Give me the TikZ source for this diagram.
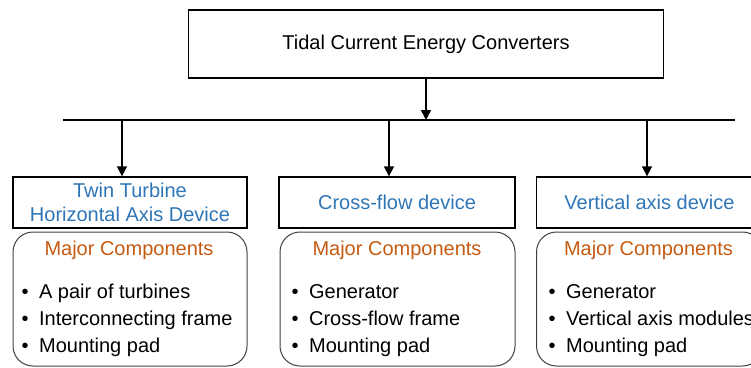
\documentclass[tikz,border=0pt]{standalone}
\usepackage{fontspec}
\setmainfont{Liberation Sans}
\usetikzlibrary{arrows.meta}
\definecolor{ttblue}{HTML}{2E75B6}
\definecolor{mcorange}{HTML}{C55A11}
\definecolor{rbgray}{HTML}{404040}
\begin{document}
\begin{tikzpicture}[x=1pt,y=-1pt,
  txt/.style={font=\fontsize{20}{24}\selectfont},
  topbox/.style={txt,draw=black,line width=1.4pt,minimum width=475pt,minimum height=68pt,inner sep=0pt},
  titlebox/.style={txt,draw=black,line width=1.4pt,minimum height=51pt,inner sep=0pt,text=ttblue,align=center},
  compbox/.style={draw=rbgray,line width=1pt,rounded corners=20pt,minimum height=134pt,inner sep=0pt},
  heading/.style={txt,text=mcorange,inner sep=0pt},
  itemlist/.style={font=\fontsize{20}{27}\selectfont,align=left,inner sep=0pt,anchor=west},
  arr/.style={line width=1.6pt,-{Triangle[width=10pt,length=10pt]}},
  bus/.style={line width=2pt}]
\useasboundingbox (0,0) rectangle (751,367);
\clip (0,0) rectangle (751,367);
% top
\node[topbox] (top) at (426,44) {Tidal Current Energy Converters};
\coordinate (busL) at (63,120);
\coordinate (busR) at (735,120);
\draw[bus] (busL) -- (busR);
\draw[arr] (top.south) -- (top.south |- busL);
% titles
\node[titlebox,minimum width=234pt] (t1) at (130,202.5) {Twin Turbine\\Horizontal Axis Device};
\node[titlebox,minimum width=236pt] (t2) at (397,202.5) {Cross-flow device};
\node[titlebox,minimum width=226pt] (t3) at (649.5,202.5) {Vertical axis device};
\coordinate (b1) at (122,120);
\coordinate (b2) at (389,120);
\coordinate (b3) at (647,120);
\draw[arr] (b1) -- (b1 |- t1.north);
\draw[arr] (b2) -- (b2 |- t2.north);
\draw[arr] (b3) -- (b3 |- t3.north);
% component boxes
\node[compbox,minimum width=234pt] (c1) at (130,299) {};
\node[compbox,minimum width=235pt] (c2) at (397.5,299) {};
\node[compbox,minimum width=226pt] (c3) at (649.5,299) {};
\node[heading] (m1) at (129,250) {Major Components};
\node[heading] (m2) at (397,250) {Major Components};
\node[heading] (m3) at (648.5,250) {Major Components};
\node[itemlist] (l1) at (21.5,320.5) {•\hspace{0.52em}A pair of turbines\\•\hspace{0.52em}Interconnecting frame\\•\hspace{0.52em}Mounting pad};
\node[itemlist] (l2) at (291.5,320.5) {•\hspace{0.52em}Generator\\•\hspace{0.52em}Cross-flow frame\\•\hspace{0.52em}Mounting pad};
\node[itemlist] (l3) at (548.5,320.5) {•\hspace{0.52em}Generator\\•\hspace{0.52em}Vertical axis modules\\•\hspace{0.52em}Mounting pad};
\end{tikzpicture}
\end{document}
